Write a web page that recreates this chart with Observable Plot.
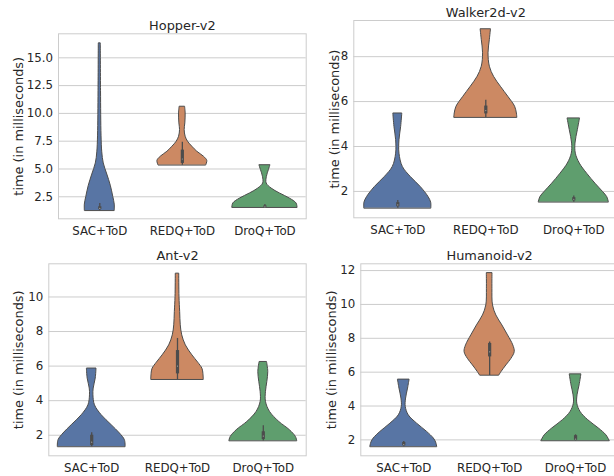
<!DOCTYPE html>
<html>
<head>
<meta charset="utf-8">
<script src="https://cdn.jsdelivr.net/npm/d3@7"></script>
<script src="https://cdn.jsdelivr.net/npm/@observablehq/plot@0.6"></script>
<style>
  body { margin: 0; background: #fff; }
  #fig { position: relative; width: 614px; height: 476px; overflow: hidden; background: #fff; }
  #fig > div { position: absolute; }
  #fig svg { max-width: none !important; }
</style>
</head>
<body>
<div id="fig"></div>
<script>
// Per-step compute time of each agent, shown as violins (cut at the data range).
const methods = ["SAC+ToD", "REDQ+ToD", "DroQ+ToD"];
const envs = ["Hopper-v2", "Walker2d-v2", "Ant-v2", "Humanoid-v2"];
const palette = ["#5875a4", "#cc8963", "#5f9e6e"];

// Violin outlines: [time in ms, half width in category units]
const hopperShapes = [
  [[1.25,0.181],[1.8,0.181],[2.5,0.163],[3.5,0.133],[4.5,0.091],[5.5,0.048],[6.5,0.030],[8,0.021],[12,0.015],[16.3,0.012]],
  [[5.34,0.290],[5.73,0.302],[6.1,0.262],[6.55,0.181],[7.0,0.121],[7.45,0.069],[7.9,0.040],[8.5,0.028],[9.1,0.036],[10.0,0.040],[10.6,0.033]],
  [[1.53,0.395],[1.9,0.383],[2.34,0.302],[2.8,0.181],[3.24,0.081],[3.7,0.021],[4.3,0.024],[4.9,0.048],[5.34,0.067]]
];
const walkerShapes = [
  [[1.25,0.381],[1.5,0.379],[1.75,0.349],[2.19,0.262],[2.64,0.148],[3.09,0.057],[3.68,0.019],[4.28,0.019],[4.87,0.038],[5.47,0.051]],
  [[5.29,0.358],[5.47,0.353],[5.77,0.333],[6.2,0.258],[6.66,0.171],[7.1,0.094],[7.55,0.046],[8.15,0.031],[8.75,0.046],[9.22,0.059]],
  [[1.52,0.398],[1.75,0.379],[1.97,0.333],[2.34,0.247],[2.79,0.151],[3.24,0.068],[3.68,0.023],[4.13,0.019],[4.73,0.046],[5.25,0.071]]
];
const antShapes = [
  [[1.33,0.395],[1.71,0.387],[2.1,0.329],[2.58,0.233],[3.16,0.116],[3.73,0.038],[4.31,0.020],[4.7,0.023],[5.28,0.047],[5.86,0.056]],
  [[5.22,0.306],[5.55,0.302],[5.84,0.291],[6.2,0.241],[6.62,0.174],[7.2,0.097],[7.78,0.055],[8.36,0.038],[9.13,0.031],[10,0.023],[11.35,0.020]],
  [[1.67,0.395],[1.9,0.380],[2.29,0.310],[2.77,0.186],[3.35,0.078],[3.93,0.031],[4.51,0.031],[5.09,0.047],[5.66,0.058],[6.24,0.043]]
];
const humanoidShapes = [
  [[1.59,0.389],[1.84,0.377],[2.08,0.350],[2.47,0.272],[2.96,0.155],[3.45,0.058],[3.95,0.023],[4.44,0.027],[5.03,0.050],[5.56,0.068]],
  [[5.81,0.113],[6.0,0.137],[6.4,0.195],[6.79,0.254],[7.19,0.292],[7.58,0.275],[8.17,0.214],[8.76,0.148],[9.35,0.078],[9.94,0.039],[10.92,0.032],[11.85,0.033]],
  [[1.94,0.397],[2.27,0.359],[2.67,0.272],[3.16,0.148],[3.65,0.058],[4.14,0.020],[4.63,0.023],[5.22,0.047],[5.87,0.068]]
];

// Inner box summaries: [whisker low, Q1, median, Q3, whisker high]
const hopperBoxes = [[1.25,1.35,1.45,1.6,1.9],[5.34,5.5,5.9,6.7,7.4],[1.53,1.55,1.6,1.68,1.8]];
const walkerBoxes = [[1.25,1.32,1.4,1.5,1.6],[5.29,5.45,5.6,5.8,6.06],[1.52,1.58,1.65,1.72,1.8]];
const antBoxes = [[1.33,1.4,1.6,2.0,2.15],[5.22,5.55,6.0,6.9,7.6],[1.67,1.75,1.95,2.2,2.55]];
const humanoidBoxes = [[1.59,1.65,1.72,1.85,1.9],[5.81,6.9,7.2,7.7,7.78],[1.94,1.98,2.05,2.25,2.3]];

// Y tick values of each panel
const hopperTicks = [2.5, 5, 7.5, 10, 12.5, 15];
const walkerTicks = [2, 4, 6, 8];
const antTicks = [2, 4, 6, 8, 10];
const humanoidTicks = [2, 4, 6, 8, 10, 12];

const yLabel = "time (in milliseconds)";
const ink = "#262626";
const edge = "#4c4c4c";
const light = "#cccccc";

function violinPanel(cfg) {
  const rows = cfg.shapes.flatMap((prof, i) =>
    prof.map(([v, w]) => ({i, method: methods[i], v, w})));
  const boxes = cfg.boxes.map((b, i) => ({i, lo: b[0], q1: b[1], med: b[2], q3: b[3], hi: b[4]}));
  const chart = Plot.plot({
    width: cfg.width,
    height: cfg.height,
    marginLeft: cfg.m[0],
    marginRight: cfg.m[1],
    marginTop: cfg.m[2],
    marginBottom: cfg.m[3],
    style: {fontFamily: "'DejaVu Sans', sans-serif", fontSize: "11.8px", color: ink, background: "transparent", overflow: "visible"},
    x: {domain: [-0.5, 2.5], label: null},
    y: {domain: cfg.domain, label: null},
    marks: [
      Plot.gridY(cfg.ticks, {stroke: light, strokeOpacity: 1, strokeWidth: 1}),
      Plot.frame({stroke: light, strokeWidth: 1}),
      Plot.axisY(cfg.ticks, {tickSize: 0, tickPadding: 5.5, tickFormat: cfg.fmt, label: null}),
      Plot.axisX([0, 1, 2], {tickSize: 0, tickPadding: 7.5, tickFormat: i => methods[i], label: null}),
      Plot.areaX(rows, {
        y: "v",
        x1: d => d.i - d.w,
        x2: d => d.i + d.w,
        z: "i",
        fill: d => palette[d.i],
        stroke: edge,
        strokeWidth: 1,
        curve: "catmull-rom"
      }),
      Plot.ruleX(boxes, {x: "i", y1: "lo", y2: "hi", stroke: edge, strokeWidth: 1.3}),
      Plot.ruleX(boxes, {x: "i", y1: "q1", y2: "q3", stroke: edge, strokeWidth: 3.2}),
      Plot.dot(boxes, {x: "i", y: "med", r: 0.6, fill: "#e8e8e8", fillOpacity: 0.6, stroke: null}),
      Plot.text([cfg.title], {text: d => d, frameAnchor: "top", dy: -3.7, lineAnchor: "bottom", fontSize: 12.9, fill: ink}),
      Plot.text([yLabel], {text: d => d, frameAnchor: "left", textAnchor: "middle", rotate: -90, dx: cfg.labelDx, lineAnchor: "middle", fontSize: 12.9, fill: ink})
    ]
  });
  const holder = document.createElement("div");
  holder.style.left = cfg.left + "px";
  holder.style.top = cfg.top + "px";
  holder.style.width = cfg.width + "px";
  holder.style.height = cfg.height + "px";
  holder.appendChild(chart);
  document.getElementById("fig").appendChild(holder);
}

const oneDecimal = d => d.toFixed(1);
const plain = d => String(d);

violinPanel({title: envs[0], shapes: hopperShapes, boxes: hopperBoxes, ticks: hopperTicks, fmt: oneDecimal,
  domain: [0.52, 17.16], left: 0, top: 0, width: 310, height: 240, m: [58, 4.3, 33.3, 21.7], labelDx: -39.4});
violinPanel({title: envs[1], shapes: walkerShapes, boxes: walkerBoxes, ticks: walkerTicks, fmt: plain,
  domain: [0.825, 9.61], left: 307, top: 0, width: 320, height: 240, m: [46.3, 9.7, 20, 22.7], labelDx: -18.7});
violinPanel({title: envs[2], shapes: antShapes, boxes: antBoxes, ticks: antTicks, fmt: plain,
  domain: [0.81, 11.92], left: 0, top: 238, width: 310, height: 238, m: [48.3, 4.3, 25.3, 20.7], labelDx: -29.7});
violinPanel({title: envs[3], shapes: humanoidShapes, boxes: humanoidBoxes, ticks: humanoidTicks, fmt: plain,
  domain: [1.06, 12.4], left: 307, top: 238, width: 320, height: 238, m: [53.3, 9, 25.3, 20.7], labelDx: -28.7});
</script>
</body>
</html>
